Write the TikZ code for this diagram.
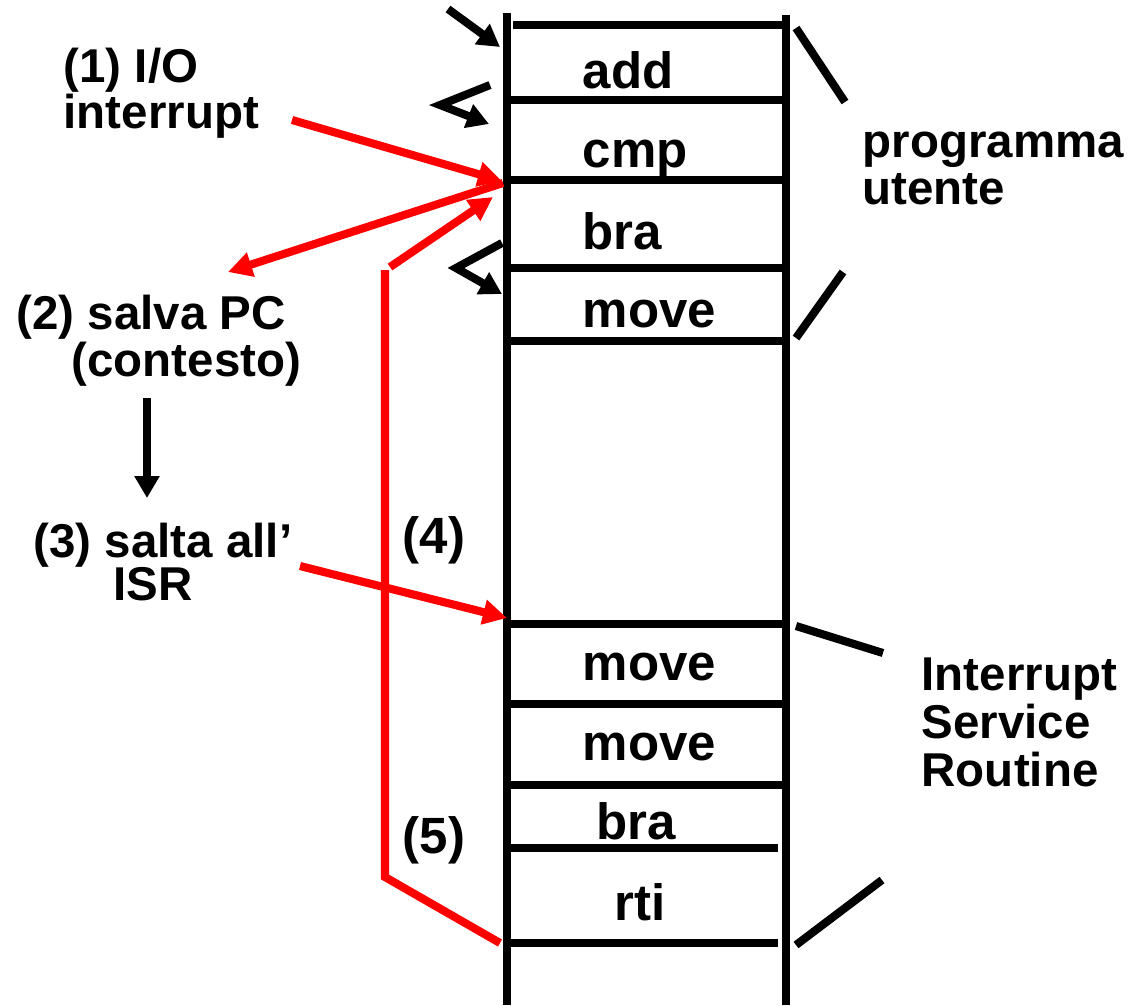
\documentclass[tikz,border=0pt]{standalone}
\usepackage{fontspec}
\setmainfont{Liberation Sans}
\usetikzlibrary{arrows.meta}
\begin{document}
\begin{tikzpicture}[x=0.01cm,y=-0.01cm,
  lbl/.style={font=\fontsize{13.5pt}{13.1pt}\selectfont\bfseries, inner sep=0pt, anchor=base west},
  instr/.style={font=\fontsize{14.5pt}{14pt}\selectfont\bfseries, inner sep=0pt, anchor=base west},
  bar/.style={line width=2.3pt},
  blkarrow/.style={line width=2.3pt, -{Triangle[length=0.22cm,width=0.24cm]}},
  redline/.style={line width=2.3pt, draw={rgb,255:red,255;green,0;blue,0}},
  redarrow/.style={redline, -{Triangle[length=0.24cm,width=0.24cm]}}]
\useasboundingbox (0,0) rectangle (1139,1005);
% memory column
\coordinate (L0) at (507,13);  \coordinate (L1) at (507,1005);
\coordinate (R0) at (786,15);  \coordinate (R1) at (786,1005);
\draw[bar] (L0) -- (L1);
\draw[bar] (R0) -- (R1);
\coordinate (h1a) at (513,25);  \coordinate (h1b) at (782,25);
\coordinate (h2a) at (507,100); \coordinate (h2b) at (782,100);
\coordinate (h3a) at (507,180); \coordinate (h3b) at (782,180);
\coordinate (h4a) at (507,268); \coordinate (h4b) at (782,268);
\coordinate (h5a) at (507,341); \coordinate (h5b) at (782,341);
\coordinate (h6a) at (507,624); \coordinate (h6b) at (782,624);
\coordinate (h7a) at (510,704); \coordinate (h7b) at (782,704);
\coordinate (h8a) at (507,785); \coordinate (h8b) at (782,785);
\coordinate (h9a) at (507,848); \coordinate (h9b) at (778,848);
\coordinate (h10a) at (510,943); \coordinate (h10b) at (778,943);
\foreach \i in {1,...,10} {\draw[bar] (h\i a) -- (h\i b);}
% instructions
\node[instr] (i1) at (582,88) {add};
\node[instr] (i2) at (582,167) {cmp};
\node[instr] (i3) at (582,249) {bra};
\node[instr] (i4) at (582,327) {move};
\node[instr] (i5) at (582,680) {move};
\node[instr] (i6) at (582,760) {move};
\node[instr] (i7) at (596,839) {bra};
\node[instr] (i8) at (614,920) {rti};
% right labels and brackets
\node[lbl] (pu1) at (862,157) {programma};
\node[lbl] (pu2) at (862,204) {utente};
\node[lbl] (isr1) at (921,690) {Interrupt};
\node[lbl] (isr2) at (921,738) {Service};
\node[lbl] (isr3) at (921,786) {Routine};
\coordinate (b1a) at (796,28);  \coordinate (b1b) at (845,102);
\coordinate (b2a) at (796,338); \coordinate (b2b) at (843,272);
\coordinate (b3a) at (796,626); \coordinate (b3b) at (883,653);
\coordinate (b4a) at (796,945); \coordinate (b4b) at (882,880);
\draw[bar] (b1a) -- (b1b);
\draw[bar] (b2a) -- (b2b);
\draw[bar] (b3a) -- (b3b);
\draw[bar] (b4a) -- (b4b);
% black arrows near column
\coordinate (a1s) at (448,9);   \coordinate (a1e) at (500,47);
\draw[blkarrow] (a1s) -- (a1e);
\coordinate (a2s) at (490,85);  \coordinate (a2m) at (440,105); \coordinate (a2e) at (489,124);
\draw[blkarrow] (a2s) -- (a2m) -- (a2e);
\coordinate (a3s) at (502,243); \coordinate (a3m) at (456,268); \coordinate (a3e) at (502,294);
\draw[blkarrow] (a3s) -- (a3m) -- (a3e);
% left labels
\node[lbl] (t1a) at (63,82) {(1) I/O};
\node[lbl] (t1b) at (63,128) {interrupt};
\node[lbl] (t2a) at (16,329) {(2) salva PC};
\node[lbl] (t2b) at (71,376) {(contesto)};
\node[lbl] (t3a) at (33,557) {(3) salta all’};
\node[lbl] (t3b) at (113,600) {ISR};
\node[instr] (t4) at (402,553) {(4)};
\node[instr] (t5) at (402,853) {(5)};
\coordinate (d1) at (147,398); \coordinate (d2) at (147,498);
\draw[blkarrow] (d1) -- (d2);
% red arrows
\coordinate (r1s) at (292,120); \coordinate (r1e) at (502,181);
\draw[redarrow] (r1s) -- (r1e);
\coordinate (r2s) at (503,183); \coordinate (r2e) at (228,272);
\draw[redarrow] (r2s) -- (r2e);
\coordinate (r3s) at (390,267); \coordinate (r3e) at (493,197);
\draw[redarrow] (r3s) -- (r3e);
\coordinate (r4a) at (500,943); \coordinate (r4b) at (385,877); \coordinate (r4c) at (385,270);
\draw[redline, line join=miter] (r4a) -- (r4b) -- (r4c);
\coordinate (r5s) at (300,566); \coordinate (r5e) at (507,618);
\draw[redarrow] (r5s) -- (r5e);
\end{tikzpicture}
\end{document}
